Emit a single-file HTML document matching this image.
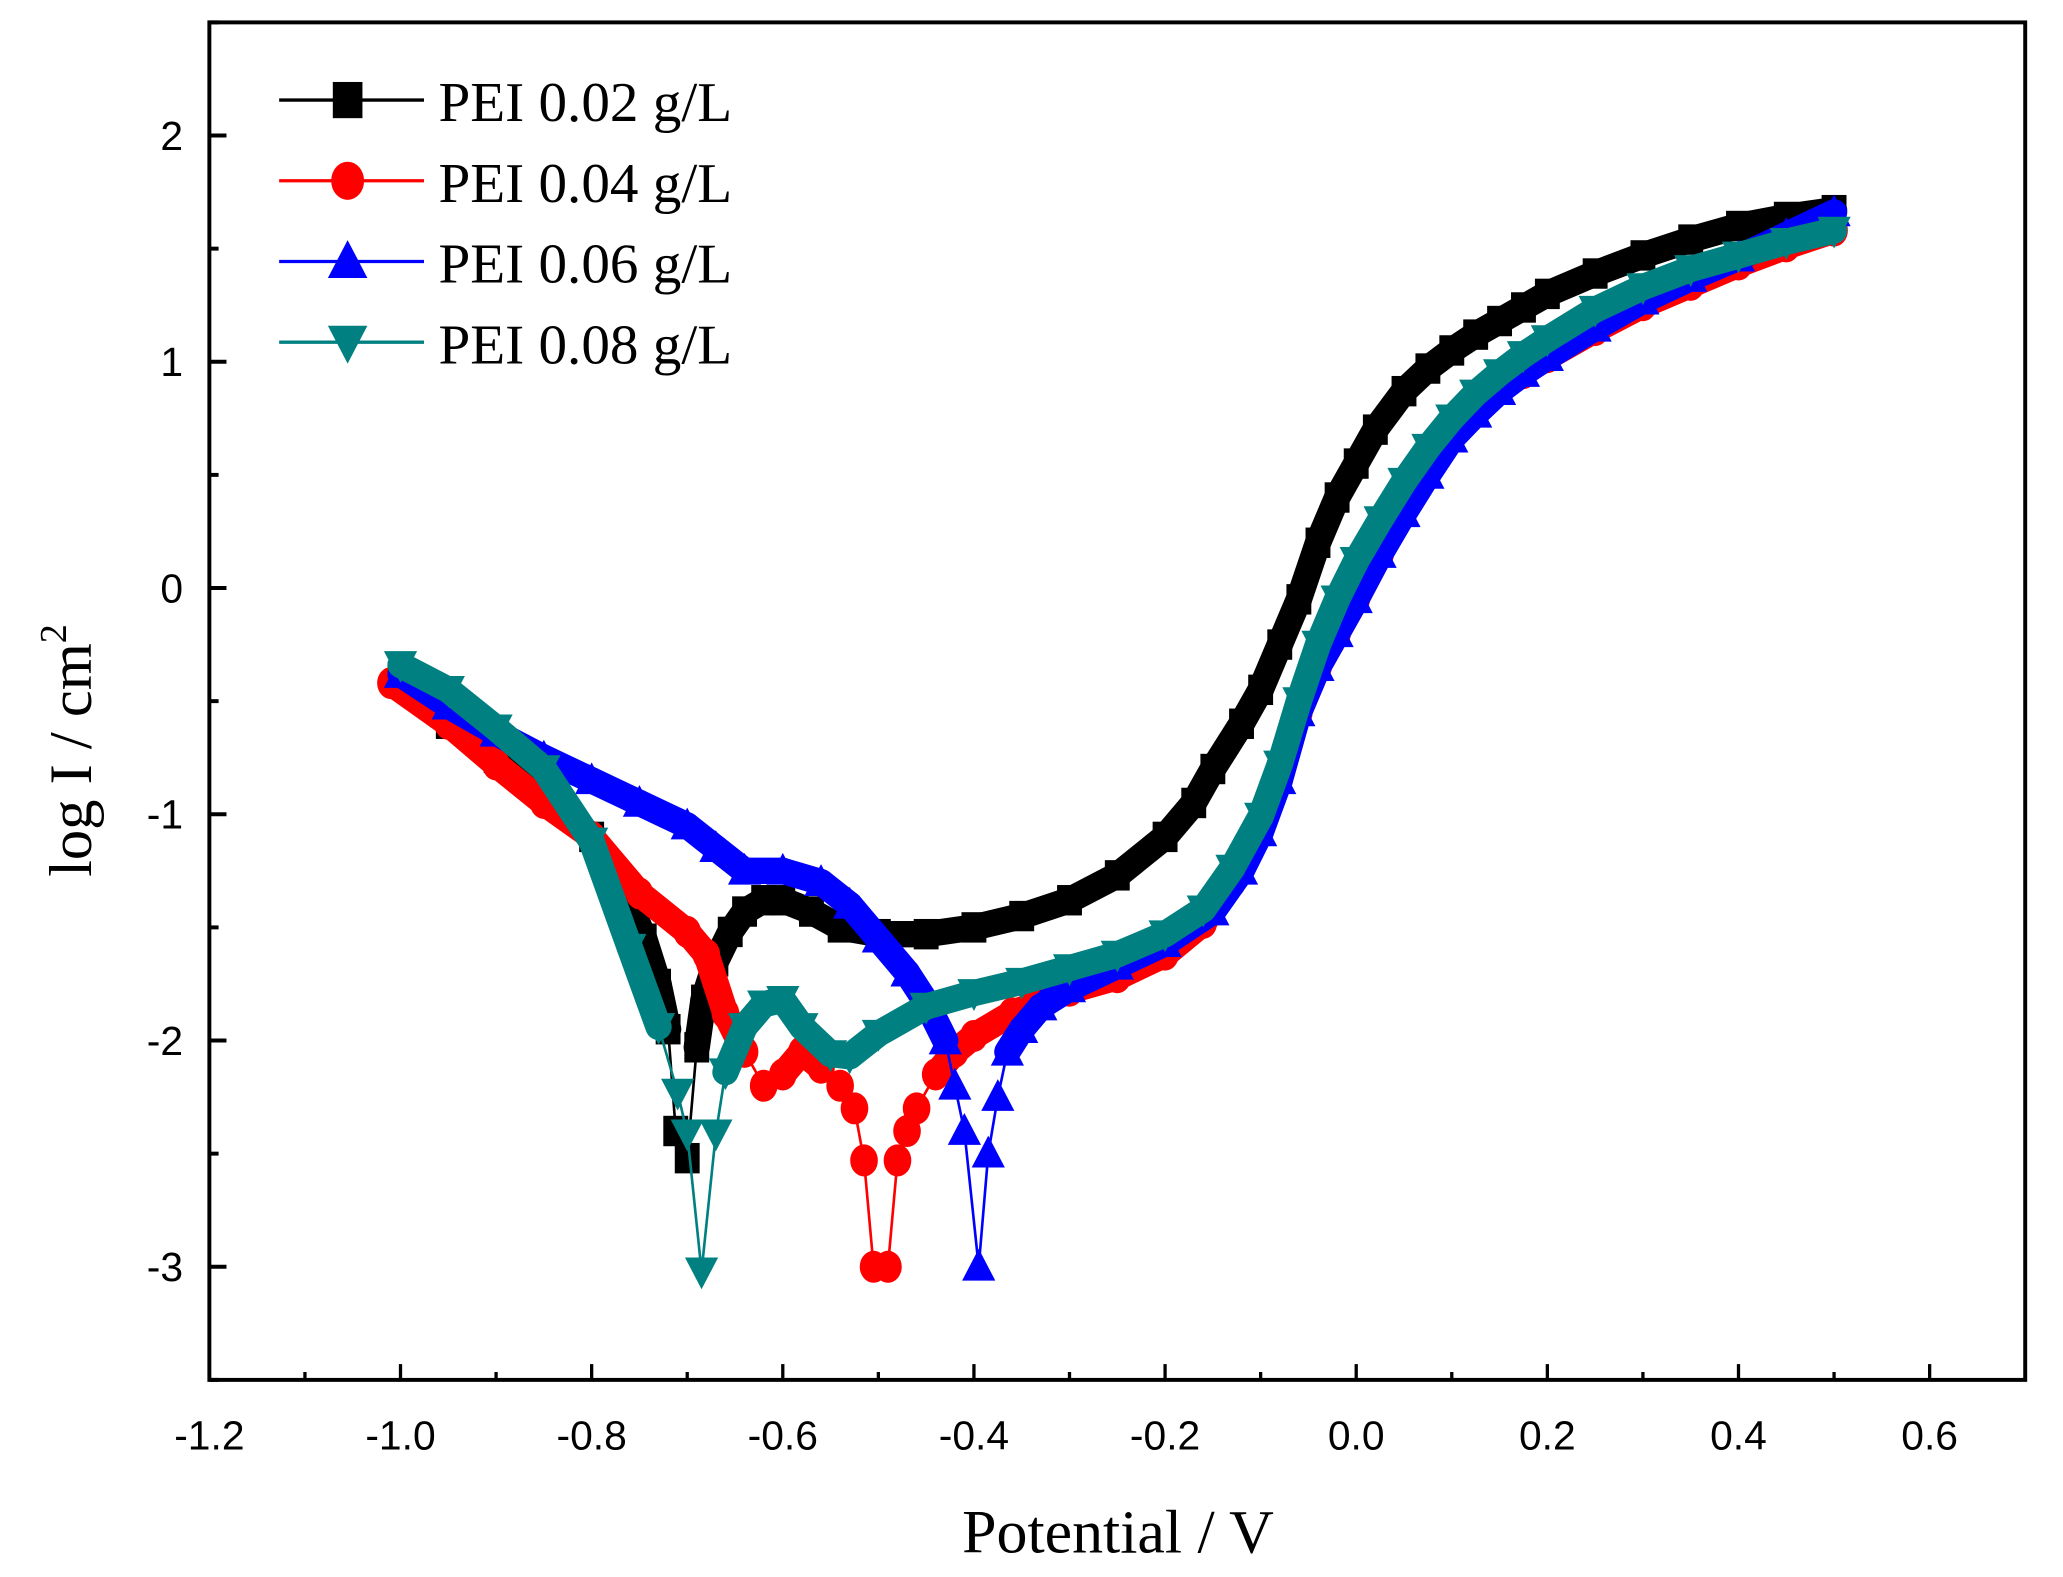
<!DOCTYPE html>
<html><head><meta charset="utf-8"><style>html,body{margin:0;padding:0;background:#fff}svg{display:block}</style></head>
<body>
<svg id="chart" width="2063" height="1577" viewBox="0 0 1566.7 1197.7" preserveAspectRatio="none" xmlns="http://www.w3.org/2000/svg">
<g id="axes"></g><g id="series"></g><g id="legend"></g>
</svg>
<script>
// ---- data ----
const xTicks = [-1.2,-1.0,-0.8,-0.6,-0.4,-0.2,0.0,0.2,0.4,0.6];
const xTickLabels = ["-1.2","-1.0","-0.8","-0.6","-0.4","-0.2","0.0","0.2","0.4","0.6"];
const yTicks = [2,1,0,-1,-2,-3];
const yTickLabels = ["2","1","0","-1","-2","-3"];
const seriesNames = ["PEI 0.02 g/L","PEI 0.04 g/L","PEI 0.06 g/L","PEI 0.08 g/L"];
const blackX = [-1.0,-0.95,-0.9,-0.85,-0.8,-0.77,-0.745,-0.73,-0.72,-0.712,-0.70,-0.69,-0.683,-0.67,-0.655,-0.64,-0.62,-0.6,-0.57,-0.54,-0.5,-0.45,-0.4,-0.35,-0.3,-0.25,-0.2,-0.17,-0.15,-0.12,-0.1,-0.08,-0.06,-0.04,-0.02,0.0,0.02,0.05,0.075,0.1,0.125,0.15,0.175,0.2,0.25,0.3,0.35,0.4,0.45,0.5];
const blackY = [-0.42,-0.6,-0.75,-0.9,-1.1,-1.3,-1.55,-1.75,-1.95,-2.4,-2.52,-2.03,-1.82,-1.65,-1.52,-1.43,-1.38,-1.38,-1.43,-1.5,-1.53,-1.53,-1.5,-1.45,-1.38,-1.27,-1.1,-0.95,-0.8,-0.6,-0.45,-0.25,-0.05,0.2,0.4,0.55,0.7,0.87,0.97,1.05,1.12,1.18,1.24,1.3,1.39,1.47,1.54,1.6,1.64,1.67];
const redX = [-1.01,-0.95,-0.9,-0.85,-0.8,-0.75,-0.7,-0.68,-0.66,-0.64,-0.62,-0.6,-0.58,-0.56,-0.54,-0.525,-0.515,-0.505,-0.49,-0.48,-0.47,-0.46,-0.44,-0.42,-0.4,-0.36,-0.3,-0.25,-0.2,-0.16,-0.13,-0.1,-0.08,-0.06,-0.04,-0.02,0.0,0.025,0.05,0.075,0.1,0.125,0.15,0.175,0.2,0.25,0.3,0.35,0.4,0.45,0.5];
const redY = [-0.42,-0.6,-0.78,-0.95,-1.1,-1.35,-1.52,-1.62,-1.88,-2.05,-2.2,-2.15,-2.05,-2.12,-2.2,-2.3,-2.53,-3.0,-3.0,-2.53,-2.4,-2.3,-2.15,-2.05,-1.98,-1.88,-1.78,-1.72,-1.62,-1.48,-1.3,-1.05,-0.8,-0.55,-0.35,-0.2,-0.05,0.15,0.35,0.52,0.67,0.78,0.88,0.95,1.02,1.14,1.25,1.34,1.43,1.51,1.58];
const blueX = [-1.0,-0.95,-0.9,-0.85,-0.8,-0.75,-0.7,-0.67,-0.64,-0.6,-0.56,-0.53,-0.5,-0.47,-0.45,-0.43,-0.42,-0.41,-0.395,-0.385,-0.375,-0.365,-0.35,-0.33,-0.3,-0.25,-0.2,-0.15,-0.12,-0.1,-0.08,-0.06,-0.04,-0.02,0.0,0.025,0.05,0.075,0.1,0.125,0.15,0.175,0.2,0.25,0.3,0.35,0.4,0.45,0.5];
const blueY = [-0.38,-0.52,-0.64,-0.75,-0.85,-0.95,-1.05,-1.15,-1.25,-1.25,-1.3,-1.4,-1.55,-1.7,-1.83,-2.0,-2.2,-2.4,-3.0,-2.5,-2.25,-2.05,-1.95,-1.85,-1.77,-1.67,-1.57,-1.43,-1.25,-1.08,-0.85,-0.55,-0.35,-0.2,-0.05,0.15,0.33,0.5,0.66,0.77,0.87,0.95,1.02,1.15,1.27,1.37,1.46,1.56,1.66];
const tealX = [-1.0,-0.95,-0.9,-0.85,-0.8,-0.76,-0.73,-0.71,-0.70,-0.685,-0.67,-0.66,-0.64,-0.62,-0.60,-0.58,-0.55,-0.53,-0.5,-0.45,-0.4,-0.35,-0.3,-0.25,-0.2,-0.16,-0.13,-0.1,-0.08,-0.06,-0.04,-0.02,0.0,0.025,0.05,0.075,0.1,0.125,0.15,0.175,0.2,0.25,0.3,0.35,0.4,0.45,0.5];
const tealY = [-0.34,-0.45,-0.62,-0.8,-1.12,-1.59,-1.94,-2.23,-2.41,-3.02,-2.41,-2.14,-1.94,-1.84,-1.82,-1.94,-2.06,-2.07,-1.97,-1.85,-1.79,-1.74,-1.68,-1.62,-1.53,-1.42,-1.24,-1.01,-0.78,-0.5,-0.25,-0.05,0.12,0.3,0.47,0.62,0.75,0.86,0.95,1.03,1.1,1.23,1.33,1.41,1.47,1.53,1.58];

// ---- layout ----
const L=159,R=1538,T=17,B=1048, X0=-1.2,X1=0.7,Y0=-3.5,Y1=2.5;
const sx=v=>L+(v-X0)/(X1-X0)*(R-L);
const sy=v=>B-(v-Y0)/(Y1-Y0)*(B-T);
const NS="http://www.w3.org/2000/svg";
function mk(tag,attrs,parent){const e=document.createElementNS(NS,tag);for(const k in attrs)e.setAttribute(k,attrs[k]);parent.appendChild(e);return e;}
const axes=document.getElementById('axes'),ser=document.getElementById('series'),leg=document.getElementById('legend');

const frame=mk('rect',{x:L,y:T,width:R-L,height:B-T,fill:'none',stroke:'#000','stroke-width':3},axes);


xTicks.forEach((v,i)=>{
  const x=sx(v);
  const t=mk('line',{x1:x,x2:x,y1:B,y2:B-12,stroke:'#000','stroke-width':2.5},axes);
  
  
  const lb=mk('text',{x:x,y:1101,'text-anchor':'middle','font-family':'"Liberation Sans",Arial,sans-serif','font-size':31},axes);
  lb.textContent=xTickLabels[i];
  
  
  if(i<xTicks.length-1){const xm=sx(v+0.1);
    const m=mk('line',{x1:xm,x2:xm,y1:B,y2:B-6,stroke:'#000','stroke-width':2.5},axes);
    
    }
});
yTicks.forEach((v,i)=>{
  const y=sy(v);
  const t=mk('line',{x1:L,x2:L+13,y1:y,y2:y,stroke:'#000','stroke-width':3},axes);
  
  
  const lb=mk('text',{x:139,y:y+11,'text-anchor':'end','font-family':'"Liberation Sans",Arial,sans-serif','font-size':31},axes);
  lb.textContent=yTickLabels[i];
  
  
});
for(let v=-3.5;v<=2.5;v+=1){const y=sy(v);
  const m=mk('line',{x1:L,x2:L+7,y1:y,y2:y,stroke:'#000','stroke-width':3},axes);
  
  }
const xt=mk('text',{x:849,y:1179,'text-anchor':'middle','font-family':'"Liberation Serif","Times New Roman",serif','font-size':47},axes);
xt.textContent='Potential / V';


const yt=mk('text',{x:0,y:0,'text-anchor':'middle','font-family':'"Liberation Serif","Times New Roman",serif','font-size':46,transform:'translate(69,570) rotate(-90)'},axes);
yt.innerHTML='log I / cm<tspan dy="-19" font-size="29">2</tspan>';



function marker(kind,x,y,color,parent,s){
  let e;
  if(kind==='square') e=mk('rect',{x:x-s*0.45,y:y-s*0.55,width:s*0.9,height:s*1.1,fill:color},parent);
  else if(kind==='circle') e=mk('ellipse',{cx:x,cy:y,rx:s*0.5,ry:s*0.58,fill:color},parent);
  else if(kind==='up') e=mk('polygon',{points:`${x},${y-s*0.65} ${x-s*0.6},${y+s*0.5} ${x+s*0.6},${y+s*0.5}`,fill:color},parent);
  else e=mk('polygon',{points:`${x},${y+s*0.65} ${x-s*0.6},${y-s*0.5} ${x+s*0.6},${y-s*0.5}`,fill:color},parent);
  return e;
}
const all=[[blackX,blackY,'#000000','square'],[redX,redY,'#ff0000','circle'],[blueX,blueY,'#0000ff','up'],[tealX,tealY,'#008080','down']];
all.forEach(([xs,ys,c,k],si)=>{
  const g=mk('g',{},ser);
  
  
  const pts=xs.map((v,i)=>[sx(v),sy(ys[i])]);
  for(let i=0;i<pts.length-1;i++){
    if(ys[i]>-2.2 && ys[i+1]>-2.2){
      const [x1,y1]=pts[i],[x2,y2]=pts[i+1];
      const b=mk('line',{x1,y1,x2,y2,stroke:c,'stroke-width':20,'stroke-linecap':'round'},g);
      
      
    }
  }
  const line=mk('polyline',{points:pts.map(p=>p.join(',')).join(' '),fill:'none',stroke:c,'stroke-width':2},g);
  
  
  pts.forEach(p=>{const m=marker(k,p[0],p[1],c,g,21);
    
    });
});

all.forEach(([xs,ys,c,k],i)=>{
  const y=76+i*61.3;
  const g=mk('g',{},leg);
  
  
  mk('line',{x1:212,x2:322,y1:y,y2:y,stroke:c,'stroke-width':2.5},g);
  marker(k,264,y,c,g,25);
  const t=mk('text',{x:333,y:y+16,'font-family':'"Liberation Serif","Times New Roman",serif','font-size':43,textLength:223,lengthAdjust:'spacingAndGlyphs'},g);
  t.textContent=seriesNames[i];
});
</script>
</body></html>
